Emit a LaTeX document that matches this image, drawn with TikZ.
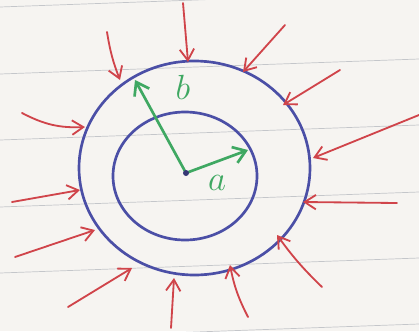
\documentclass[tikz,border=0pt]{standalone}
\usepackage{tikz}
\usetikzlibrary{arrows.meta,calc,positioning}
\definecolor{paper}{HTML}{F6F4F1}
\definecolor{rule}{HTML}{C4C6CA}
\definecolor{ink}{HTML}{4B4FA6}
\definecolor{pen}{HTML}{D0444A}
\definecolor{marker}{HTML}{3FA862}
\tikzset{
  ring/.style={ink,line width=1.9pt},
  push/.style={pen,line width=1.3pt,line cap=round,-{Straight Barb[length=2.8mm,width=3.6mm,line width=1.3pt]}},
  radius arrow/.style={marker,line width=1.9pt,line cap=round,-{Straight Barb[length=3mm,width=4.2mm,line width=1.9pt]}},
  hand/.style={marker,font=\fontsize{26}{26}\selectfont,inner sep=0pt},
}
\begin{document}
\begin{tikzpicture}[x=0.025cm,y=-0.025cm]
  \useasboundingbox (0,0) rectangle (419,331);
  % ---------- ruled paper ----------
  \fill[paper] (0,0) rectangle (419,331);
  \foreach \yl/\yr in {7/-8,74/59,140/125,207/192,273/258,339/324}
    \draw[rule,line width=0.5pt] (0,\yl) -- (419,\yr);
  % ---------- the two rings ----------
  \draw[ring] (194.5,168) ellipse [x radius=115.5,y radius=107];
  \draw[ring] (185,176) ellipse [x radius=72,y radius=64];
  % ---------- pressure arrows ----------
  \foreach \sx/\sy/\ex/\ey/\b in {
      183/3/188/62/0, 107/32/120/80/-6, 285/25/243/72/0, 340/70/283/105/0,
      22/113/85/127/-15, 419/115/313/158/0, 12/202/80/190/0, 397/203/303/202/0,
      15/257/95/230/0, 322/287/277/235/5, 68/307/132/268/0, 171/328/174/278/0,
      248/317/230/265/8}
    \draw[push] (\sx,\sy) to[bend left=\b] (\ex,\ey);
  % ---------- radii ----------
  \coordinate (O) at (186,173);
  \coordinate (tipa) at (248,150);
  \coordinate (tipb) at (135,80);
  \draw[radius arrow] (O) -- (tipa);
  \draw[radius arrow] (O) -- (tipb);
  \fill[ink!70!black] (O) circle (3);
  \node[hand] (lbla) at (217,183) {$a$};
  \node[hand] (lblb) at (183,87) {$b$};
\end{tikzpicture}
\end{document}
